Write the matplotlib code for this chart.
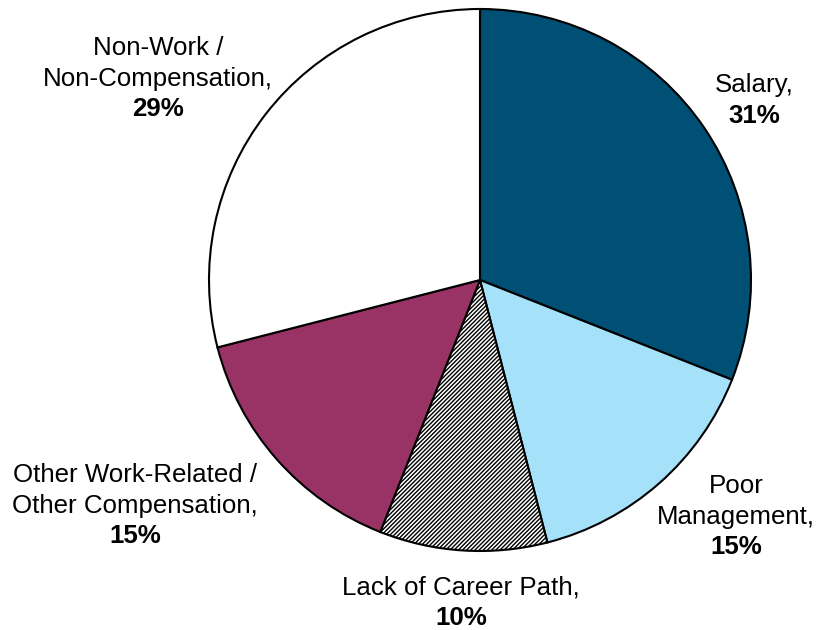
import matplotlib
matplotlib.use("Agg")
import matplotlib.pyplot as plt

plt.rcParams['font.family'] = ['Liberation Sans', 'DejaVu Sans']
plt.rcParams['hatch.linewidth'] = 1.0

# data
categories = ["Salary", "Poor Management", "Lack of Career Path",
              "Other Work-Related / Other Compensation", "Non-Work / Non-Compensation"]
shares = [31, 15, 10, 15, 29]
label_lines = [["Salary,"], ["Poor", "Management,"], ["Lack of Career Path,"],
               ["Other Work-Related /", "Other Compensation,"],
               ["Non-Work /", "Non-Compensation,"]]

colors = ["#004F74", "#A6E1FA", "white", "#993366", "white"]
hatches = [None, None, "////////", None, None]

# label anchor (pixel coords: centre x, first line baseline y, in the 822x630 canvas)
label_px = [(754, 92), (736, 493), (461, 594), (135, 482), (158, 55)]

W, H = 822, 630
cx, cy, R = 480, 280, 271

fig = plt.figure(figsize=(W / 100, H / 100), dpi=100)
ax = fig.add_axes([0, 0, 1, 1])

wedges, _ = ax.pie(shares, colors=colors, startangle=90, counterclock=False,
                   radius=1.0, center=(0, 0),
                   wedgeprops=dict(edgecolor="black", linewidth=1.5))
for w, h in zip(wedges, hatches):
    if h:
        w.set_hatch(h)

ax.set_xlim(-cx / R, (W - cx) / R)
ax.set_ylim(-(H - cy) / R, cy / R)
ax.set_aspect("auto")
ax.axis("off")

line_h = 22.0  # points
for lines, val, (px, py) in zip(label_lines, shares, label_px):
    x = (px - cx) / R
    y = (cy - py) / R
    rows = lines + [f"{val}%"]
    for i, t in enumerate(rows):
        bold = i == len(rows) - 1
        ax.annotate(t, xy=(x, y), xytext=(0, -i * line_h), textcoords="offset points",
                    ha="center", va="baseline", fontsize=18.6,
                    fontweight="bold" if bold else "normal", color="black")

fig.savefig("out.png", dpi=100)
